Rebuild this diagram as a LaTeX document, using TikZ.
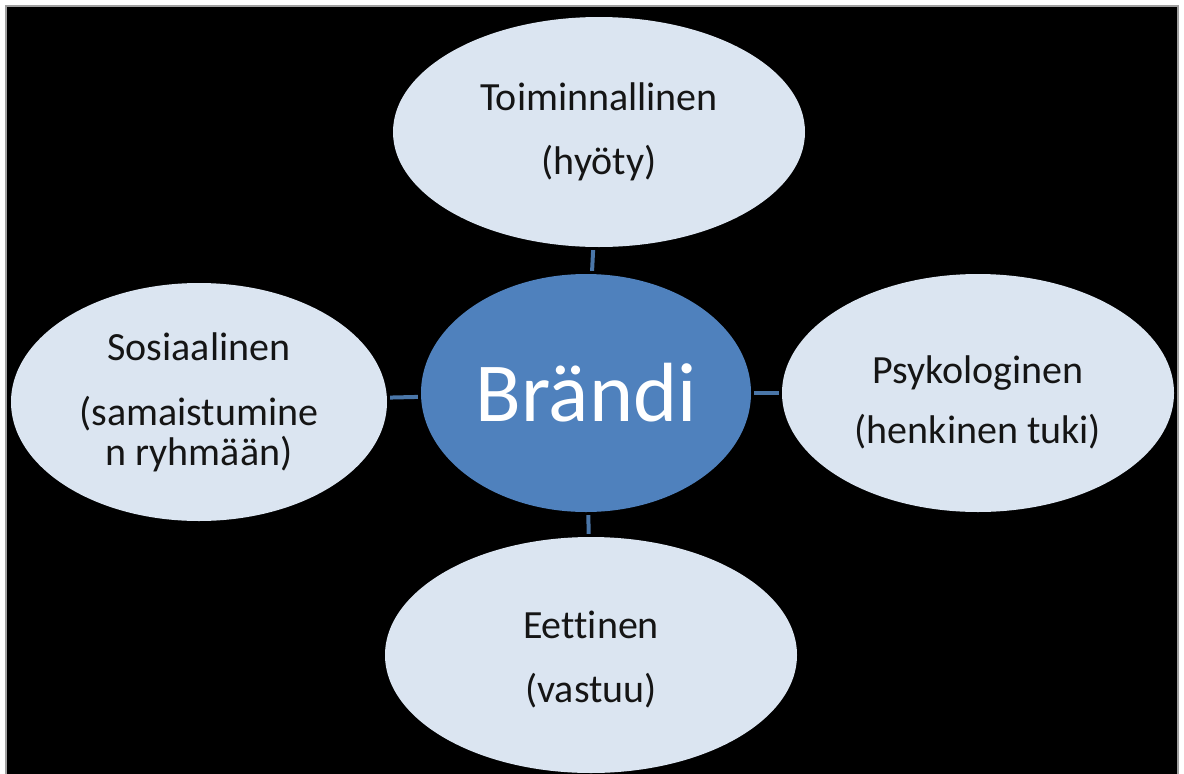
\documentclass[tikz,border=0pt]{standalone}
\usepackage{fontspec}
\setmainfont{Carlito}[Ligatures={NoCommon}]
\usetikzlibrary{shapes.geometric}
\definecolor{lightfill}{HTML}{DBE5F1}
\definecolor{midblue}{HTML}{4F81BD}
\definecolor{linkblue}{HTML}{4A76A8}
\definecolor{framegray}{HTML}{A0A0A0}
\definecolor{textdark}{HTML}{151515}
\begin{document}
\begin{tikzpicture}[x=1pt,y=-1pt,
  outer/.style={ellipse, fill=lightfill, inner sep=0pt, align=center,
    font=\fontsize{40}{40}\selectfont, text=textdark},
  core/.style={ellipse, fill=midblue, inner sep=0pt, text=white,
    font=\fontsize{84}{90}\selectfont},
  link/.style={draw=linkblue, line width=4pt, shorten <=3pt, shorten >=3pt}]
\useasboundingbox (0,0) rectangle (1184,774);
\fill[white] (0,0) rectangle (1184,774);
\filldraw[fill=black, draw=framegray, line width=1.5pt] (6,6) rectangle (1178,790);
\node[core, minimum width=330pt, minimum height=238pt] (c) at (586,393) {Brändi};
\node[outer, minimum width=412pt, minimum height=230pt] (t) at (599,132) {Toiminnallinen\\[24pt](hyöty)};
\node[outer, minimum width=376pt, minimum height=238pt] (l) at (199,402) {Sosiaalinen\\[25pt](samaistumine\\n ryhmään)};
\node[outer, minimum width=392pt, minimum height=238pt] (r) at (978,393) {\rule{0pt}{47pt}Psykologinen\\[20pt](henkinen tuki)};
\node[outer, minimum width=412pt, minimum height=236pt] (b) at (591,655) {\rule{0pt}{36pt}Eettinen\\[24pt](vastuu)};
\draw[link] (c) -- (t);
\draw[link] (c) -- (l);
\draw[link] (c) -- (r);
\draw[link] (c) -- (b);
\end{tikzpicture}
\end{document}
